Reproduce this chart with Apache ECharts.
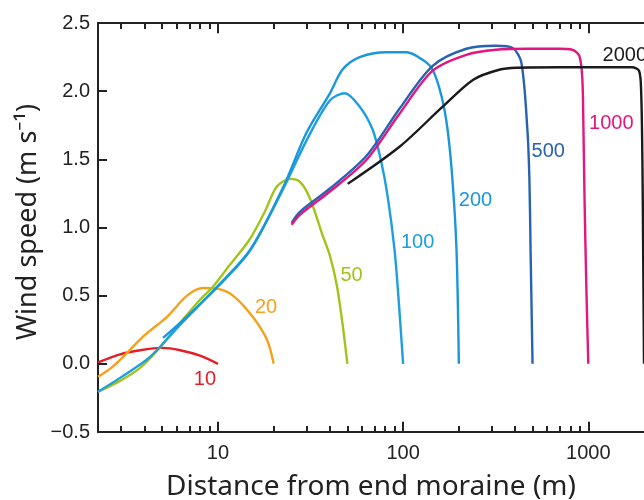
<!DOCTYPE html>
<html>
<head>
<meta charset="utf-8">
<script src="https://cdn.jsdelivr.net/npm/echarts@6/dist/echarts.min.js"></script>
<style>
  html, body { margin: 0; padding: 0; background: #fff; }
  #chart { width: 644px; height: 500px; }
</style>
</head>
<body>
<div id="chart"></div>
<script>
// distance (m) / wind speed (m s-1), one pair of arrays per moraine length
const dist10 = [2.25, 2.96, 3.8, 5.0, 6.24, 8.0, 10];
const wind10 = [0.01, 0.07, 0.10, 0.117, 0.10, 0.06, 0];

const dist20 = [2.25, 2.62, 3.07, 3.94, 5.31, 6.81, 8.3, 10, 12.05, 15.4, 18.4, 20];
const wind20 = [-0.095, -0.035, 0.05, 0.2, 0.345, 0.5, 0.556, 0.55, 0.5, 0.345, 0.176, 0];

const dist50 = [2.25, 2.96, 3.8, 4.74, 6.24, 8.0, 9.4, 11.6, 14.8, 17.9, 20.8, 24.5, 27.7, 31.3, 36.8, 40.1, 43.8, 47, 50];
const wind50 = [-0.205, -0.125, -0.03, 0.103, 0.30, 0.47, 0.565, 0.726, 0.91, 1.115, 1.30, 1.357, 1.335, 1.218, 0.94, 0.80, 0.58, 0.3, 0];

const dist100 = [2.25, 2.96, 4.3, 6.24, 9.88, 14.9, 22.4, 30.2, 40.1, 48.4, 58.3, 68.5, 76.4, 82.6, 89.9, 94.6, 100];
const wind100 = [-0.205, -0.103, 0.051, 0.286, 0.565, 0.836, 1.277, 1.643, 1.93, 1.985, 1.886, 1.717, 1.475, 1.225, 0.836, 0.47, 0];

const dist200 = [5.05, 6.24, 9.88, 14.9, 22.4, 30.2, 40.1, 47.2, 58.3, 81.4, 104.4, 127.5, 144.5, 161.5, 173.9, 184.7, 194.3, 200];
const wind200 = [0.19, 0.30, 0.56, 0.83, 1.29, 1.70, 1.98, 2.16, 2.25, 2.285, 2.285, 2.23, 2.157, 1.959, 1.717, 1.35, 0.836, 0];

const dist500 = [25, 27.7, 40.1, 63.5, 95.6, 144.5, 219.5, 317.7, 389, 435, 469, 481, 488, 500];
const wind500 = [1.034, 1.115, 1.284, 1.526, 1.871, 2.186, 2.311, 2.333, 2.318, 2.21, 1.717, 1.35, 0.836, 0];

const dist1000 = [25, 27.7, 40.1, 63.5, 95.6, 144.5, 219.5, 317.7, 480, 694, 820, 894, 928, 940, 955, 975, 1000];
const wind1000 = [1.02, 1.093, 1.262, 1.497, 1.834, 2.15, 2.267, 2.304, 2.311, 2.311, 2.304, 2.26, 2.1, 1.8, 1.2, 0.6, 0];

const dist2000 = [50.2, 95.6, 163.6, 239.3, 330, 411, 702, 1145, 1726, 1880, 1930, 1960, 1980, 2000];
const wind2000 = [1.32, 1.592, 1.886, 2.084, 2.157, 2.172, 2.175, 2.175, 2.175, 2.15, 2.0, 1.5, 0.8, 0];

// curve labels and where they sit (data units)
const names = ['10', '20', '50', '100', '200', '500', '1000', '2000'];
const colors = ['#e41e26', '#f5a11c', '#a2c41a', '#1c9fe0', '#1a97db', '#2862b2', '#e3157f', '#1a1a1a'];
const labelX = [8.5, 18.2, 52.7, 119.7, 246, 608, 1331, 1575];
const labelY = [-0.117, 0.41, 0.646, 0.888, 1.196, 1.555, 1.761, 2.26];

// axis ticks
const majorTicks = [10, 100, 1000];
const allTicks = [3, 4, 5, 6, 7, 8, 9, 10, 20, 30, 40, 50, 60, 70, 80, 90, 100,
  200, 300, 400, 500, 600, 700, 800, 900, 1000];
const xMin = 2.25, xMax = 2000;
const yMin = -0.5, yMax = 2.5;

const dists = [dist10, dist20, dist50, dist100, dist200, dist500, dist1000, dist2000];
const winds = [wind10, wind20, wind50, wind100, wind200, wind500, wind1000, wind2000];

const chart = echarts.init(document.getElementById('chart'));

const tickFont = { color: '#222', fontSize: 20, fontFamily: 'Liberation Sans' };

const makeX = (pos, showLabels) => ({
  type: 'log',
  logBase: 10,
  min: xMin,
  max: xMax,
  position: pos,
  axisLine: { show: true, onZero: false, lineStyle: { color: '#222', width: 2 } },
  axisTick: { show: true, inside: true, length: 6, customValues: allTicks, lineStyle: { color: '#222', width: 2 } },
  // only the decades get a label
  axisLabel: Object.assign({
    show: true,
    margin: 11,
    formatter: v => (showLabels && majorTicks.indexOf(Math.round(v)) >= 0) ? String(Math.round(v)) : ''
  }, tickFont),
  splitLine: { show: false }
});

// decade ticks are longer: extend them with short marks from the frame inwards
const majorLen = 0.075;
const majorTickLines = [];
majorTicks.forEach(t => {
  majorTickLines.push([{ coord: [t, yMin] }, { coord: [t, yMin + majorLen] }]);
  majorTickLines.push([{ coord: [t, yMax] }, { coord: [t, yMax - majorLen] }]);
});

const series = names.map((n, i) => ({
  type: 'line',
  showSymbol: false,
  smooth: 0.3,
  lineStyle: { color: colors[i], width: 2.4 },
  data: dists[i].map((d, k) => [d, winds[i][k]]),
  markPoint: {
    symbolSize: 0,
    silent: true,
    data: [{ coord: [labelX[i], labelY[i]], value: n }],
    label: { show: true, position: 'inside', formatter: n, color: colors[i], fontSize: 20, fontFamily: 'Liberation Sans' }
  }
}));

series[series.length - 1].markLine = {
  silent: true,
  symbol: 'none',
  label: { show: false },
  lineStyle: { color: '#222', width: 2, type: 'solid' },
  data: majorTickLines
};

chart.setOption({
  animation: false,
  backgroundColor: '#fff',
  grid: { left: 98, top: 23, right: 0, bottom: 68, outerBoundsMode: 'none' },
  xAxis: [makeX('bottom', true), makeX('top', false)],
  yAxis: {
    type: 'value',
    min: yMin,
    max: yMax,
    interval: 0.5,
    axisLine: { show: true, lineStyle: { color: '#222', width: 2 } },
    axisTick: { show: true, inside: true, length: 9, lineStyle: { color: '#222', width: 2 } },
    axisLabel: Object.assign({
      margin: 8,
      formatter: v => (v < 0 ? '\u2212' : '') + Math.abs(v).toFixed(1)
    }, tickFont),
    splitLine: { show: false }
  },
  // axis titles
  graphic: [{
    type: 'text',
    x: 371,
    y: 487,
    style: {
      text: 'Distance from end moraine (m)', fill: '#222', fontSize: 28, fontFamily: 'Noto Sans',
      align: 'center', verticalAlign: 'middle'
    }
  }, {
    type: 'text',
    x: 28,
    y: 222,
    rotation: Math.PI / 2,
    style: {
      text: 'Wind speed (m s\u207B\u00B9)', fill: '#222', fontSize: 27, fontFamily: 'Noto Sans',
      align: 'center', verticalAlign: 'middle'
    }
  }],
  series: series
});
</script>
</body>
</html>
